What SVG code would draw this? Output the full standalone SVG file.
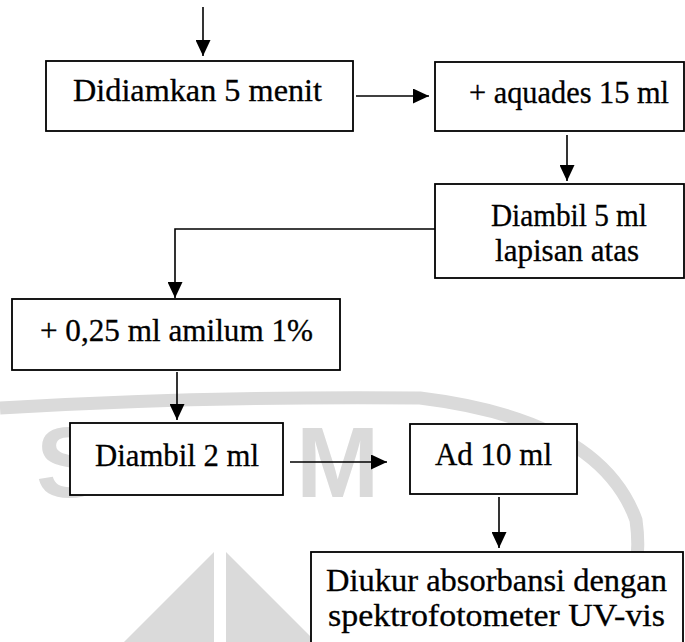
<svg xmlns="http://www.w3.org/2000/svg" width="685" height="642" viewBox="0 0 685 642">
<defs>
<marker id="ah" markerUnits="userSpaceOnUse" markerWidth="17" markerHeight="15" refX="16" refY="7.5" orient="auto">
<path d="M0,0 L16,7.5 L0,15 z" fill="#000"/>
</marker>
<style>
.box{fill:#fff;stroke:#000;stroke-width:1.8}
.lbl{font-family:"Liberation Serif","Times New Roman",serif;font-size:32px;fill:#000;text-anchor:middle;stroke:#000;stroke-width:0.3}
.con{fill:none;stroke:#000;stroke-width:1.6}
.wm{fill:#dadada;font-family:"Liberation Sans",Arial,sans-serif;font-weight:bold;font-size:100px}
.wml{fill:none;stroke:#dadada}
</style>
</defs>
<rect width="685" height="642" fill="#fff"/>
<g id="watermark">
<text class="wm" x="36" y="497">S</text>
<text class="wm" x="296" y="497">M</text>
<path class="wml" stroke-width="13" d="M0,408 Q200,396 420,398 Q600,420 636,520 Q646,590 600,642"/>
<path fill="#dadada" d="M214,552 L124,642 L214,642 z M226,552 L316,642 L226,642 z"/>
</g>
<g id="connectors">
<line class="con" x1="203" y1="7" x2="203" y2="56" marker-end="url(#ah)"/>
<line class="con" x1="356" y1="96" x2="429" y2="96" marker-end="url(#ah)"/>
<line class="con" x1="567" y1="135" x2="567" y2="181" marker-end="url(#ah)"/>
<polyline class="con" points="435,229 175,229 175,298" marker-end="url(#ah)"/>
<line class="con" x1="177" y1="372" x2="177" y2="420" marker-end="url(#ah)"/>
<line class="con" x1="290" y1="462" x2="387" y2="462" marker-end="url(#ah)"/>
<line class="con" x1="499" y1="497" x2="499" y2="548" marker-end="url(#ah)"/>
</g>
<g id="n1"><rect class="box" x="46" y="61" width="307" height="70"/><text class="lbl" x="197.5" y="101" textLength="249" lengthAdjust="spacingAndGlyphs">Didiamkan 5 menit</text></g>
<g id="n2"><rect class="box" x="435" y="62" width="249" height="69"/><text class="lbl" x="569" y="103" textLength="200" lengthAdjust="spacingAndGlyphs">+ aquades 15 ml</text></g>
<g id="n3"><rect class="box" x="435" y="184" width="249" height="94"/><text class="lbl" x="569" y="226" textLength="156" lengthAdjust="spacingAndGlyphs">Diambil 5 ml</text><text class="lbl" x="567" y="261" textLength="144" lengthAdjust="spacingAndGlyphs">lapisan atas</text></g>
<g id="n4"><rect class="box" x="12" y="299" width="328" height="71"/><text class="lbl" x="176.5" y="341" textLength="273" lengthAdjust="spacingAndGlyphs">+ 0,25 ml amilum 1%</text></g>
<g id="n5"><rect class="box" x="70" y="423" width="213" height="72"/><text class="lbl" x="177" y="466" textLength="164" lengthAdjust="spacingAndGlyphs">Diambil 2 ml</text></g>
<g id="n6"><rect class="box" x="410" y="424" width="167" height="70"/><text class="lbl" x="493.5" y="465" textLength="117" lengthAdjust="spacingAndGlyphs">Ad 10 ml</text></g>
<g id="n7"><rect class="box" x="311" y="552" width="372" height="110"/><text class="lbl" x="496.5" y="591" textLength="341" lengthAdjust="spacingAndGlyphs">Diukur absorbansi dengan</text><text class="lbl" x="496.5" y="626" textLength="337" lengthAdjust="spacingAndGlyphs">spektrofotometer UV-vis</text></g>
</svg>
